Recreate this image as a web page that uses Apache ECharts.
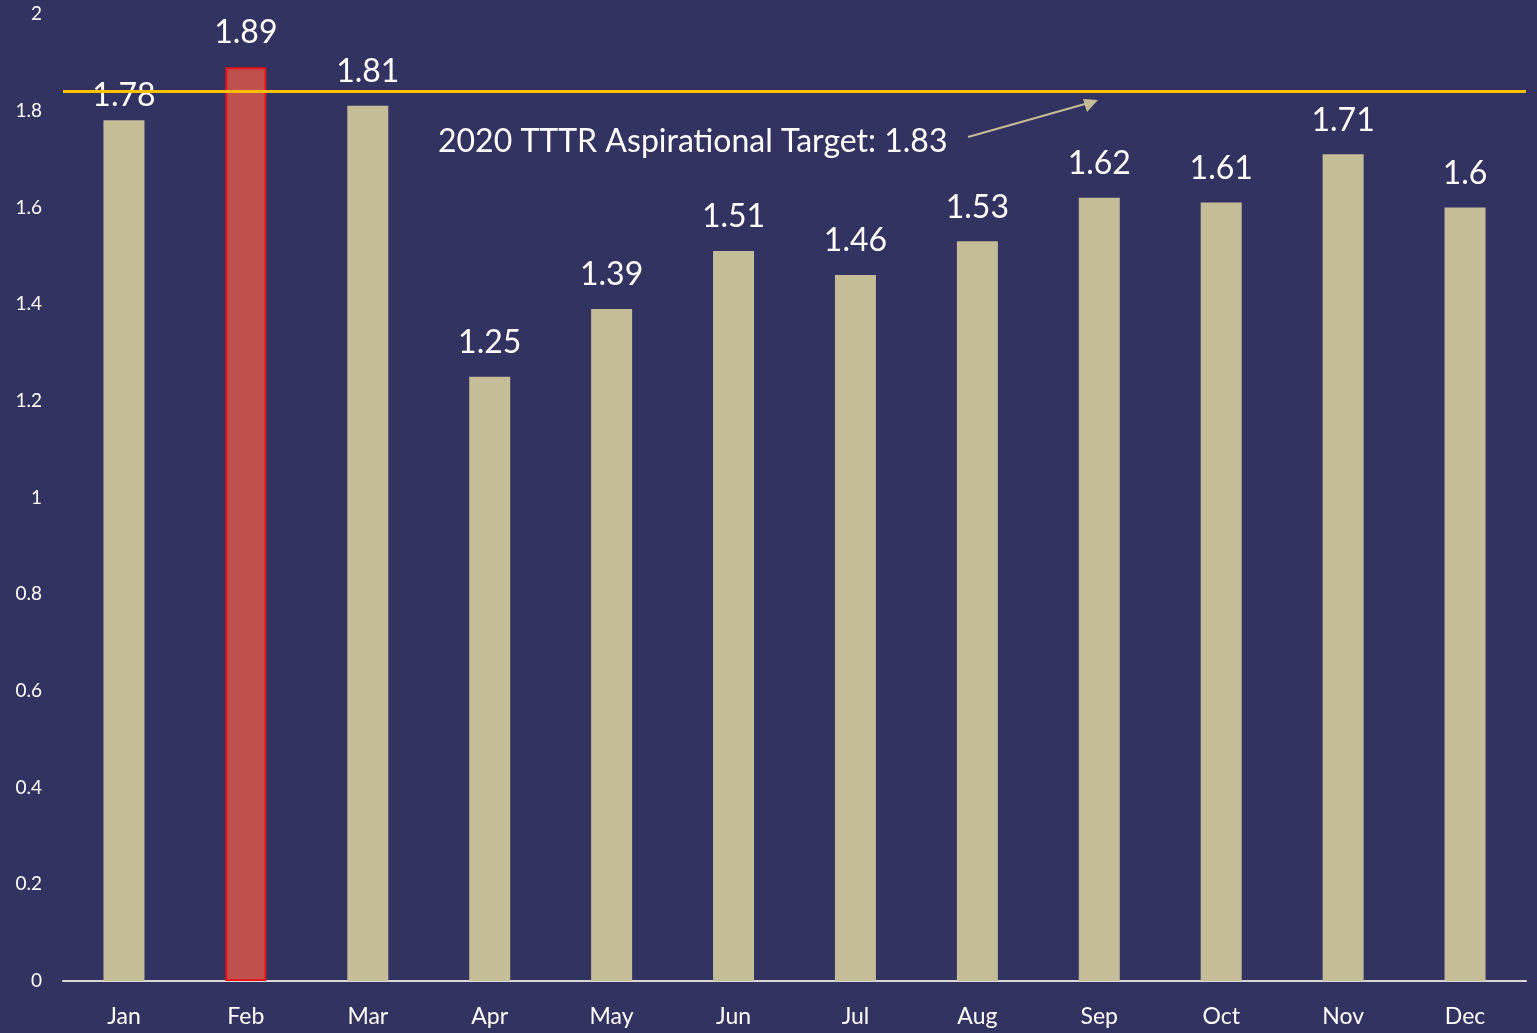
<!DOCTYPE html>
<html>
<head>
<meta charset="utf-8">
<script src="https://cdn.jsdelivr.net/npm/echarts@6/dist/echarts.min.js"></script>
<style>
  html, body { margin: 0; padding: 0; background: #333362; }
  #chart { width: 1537px; height: 1033px; }
</style>
</head>
<body>
<div id="chart"></div>
<script>
const months = ['Jan', 'Feb', 'Mar', 'Apr', 'May', 'Jun', 'Jul', 'Aug', 'Sep', 'Oct', 'Nov', 'Dec'];
const tttr = [1.78, 1.89, 1.81, 1.25, 1.39, 1.51, 1.46, 1.53, 1.62, 1.61, 1.71, 1.6];
const highlightMonth = 'Feb';
const targetValue = 1.838;
const targetText = '2020 TTTR Aspirational Target: 1.83';

const chart = echarts.init(document.getElementById('chart'));

const barData = tttr.map((v, i) => {
  if (months[i] === highlightMonth) {
    return { value: v, itemStyle: { color: '#C0504D', borderColor: '#E8161A', borderWidth: 2 } };
  }
  if (i === 0) {
    // Jan label sits lower, over the target line
    return { value: v, label: { distance: 9 } };
  }
  return v;
});

chart.setOption({
  backgroundColor: '#333362',
  textStyle: { fontFamily: 'Lato' },
  grid: { left: 63, right: 11, top: 14, bottom: 52 },
  xAxis: {
    type: 'category',
    data: months,
    axisLine: { lineStyle: { color: '#D9D9D9', width: 2 } },
    axisTick: { show: false },
    axisLabel: { color: '#FFFFFF', fontSize: 23, margin: 24, fontFamily: 'Lato' }
  },
  yAxis: {
    type: 'value',
    min: 0,
    max: 2,
    interval: 0.2,
    splitLine: { show: false },
    axisLine: { show: false },
    axisTick: { show: false },
    axisLabel: { color: '#FFFFFF', fontSize: 19, margin: 21, fontFamily: 'Lato' }
  },
  series: [{
    type: 'bar',
    data: barData,
    barWidth: 41,
    itemStyle: { color: '#C4BD97' },
    label: {
      show: true,
      position: 'top',
      distance: 18,
      color: '#FFFFFF',
      fontSize: 32,
      fontFamily: 'Lato'
    },
    markLine: {
      silent: true,
      symbol: 'none',
      label: { show: false },
      lineStyle: { color: '#FFC000', width: 3, type: 'solid' },
      data: [{ yAxis: targetValue }]
    }
  }],
  graphic: [
    {
      type: 'text',
      left: 438,
      top: 126,
      style: { text: targetText, fill: '#FFFFFF', font: '32px Lato' }
    },
    {
      type: 'line',
      shape: { x1: 968, y1: 137, x2: 1092, y2: 102 },
      style: { stroke: '#C4BD97', lineWidth: 2 }
    },
    {
      type: 'polygon',
      shape: { points: [[1098, 100], [1083, 99], [1087, 112]] },
      style: { fill: '#C4BD97' }
    }
  ]
});
</script>
</body>
</html>
